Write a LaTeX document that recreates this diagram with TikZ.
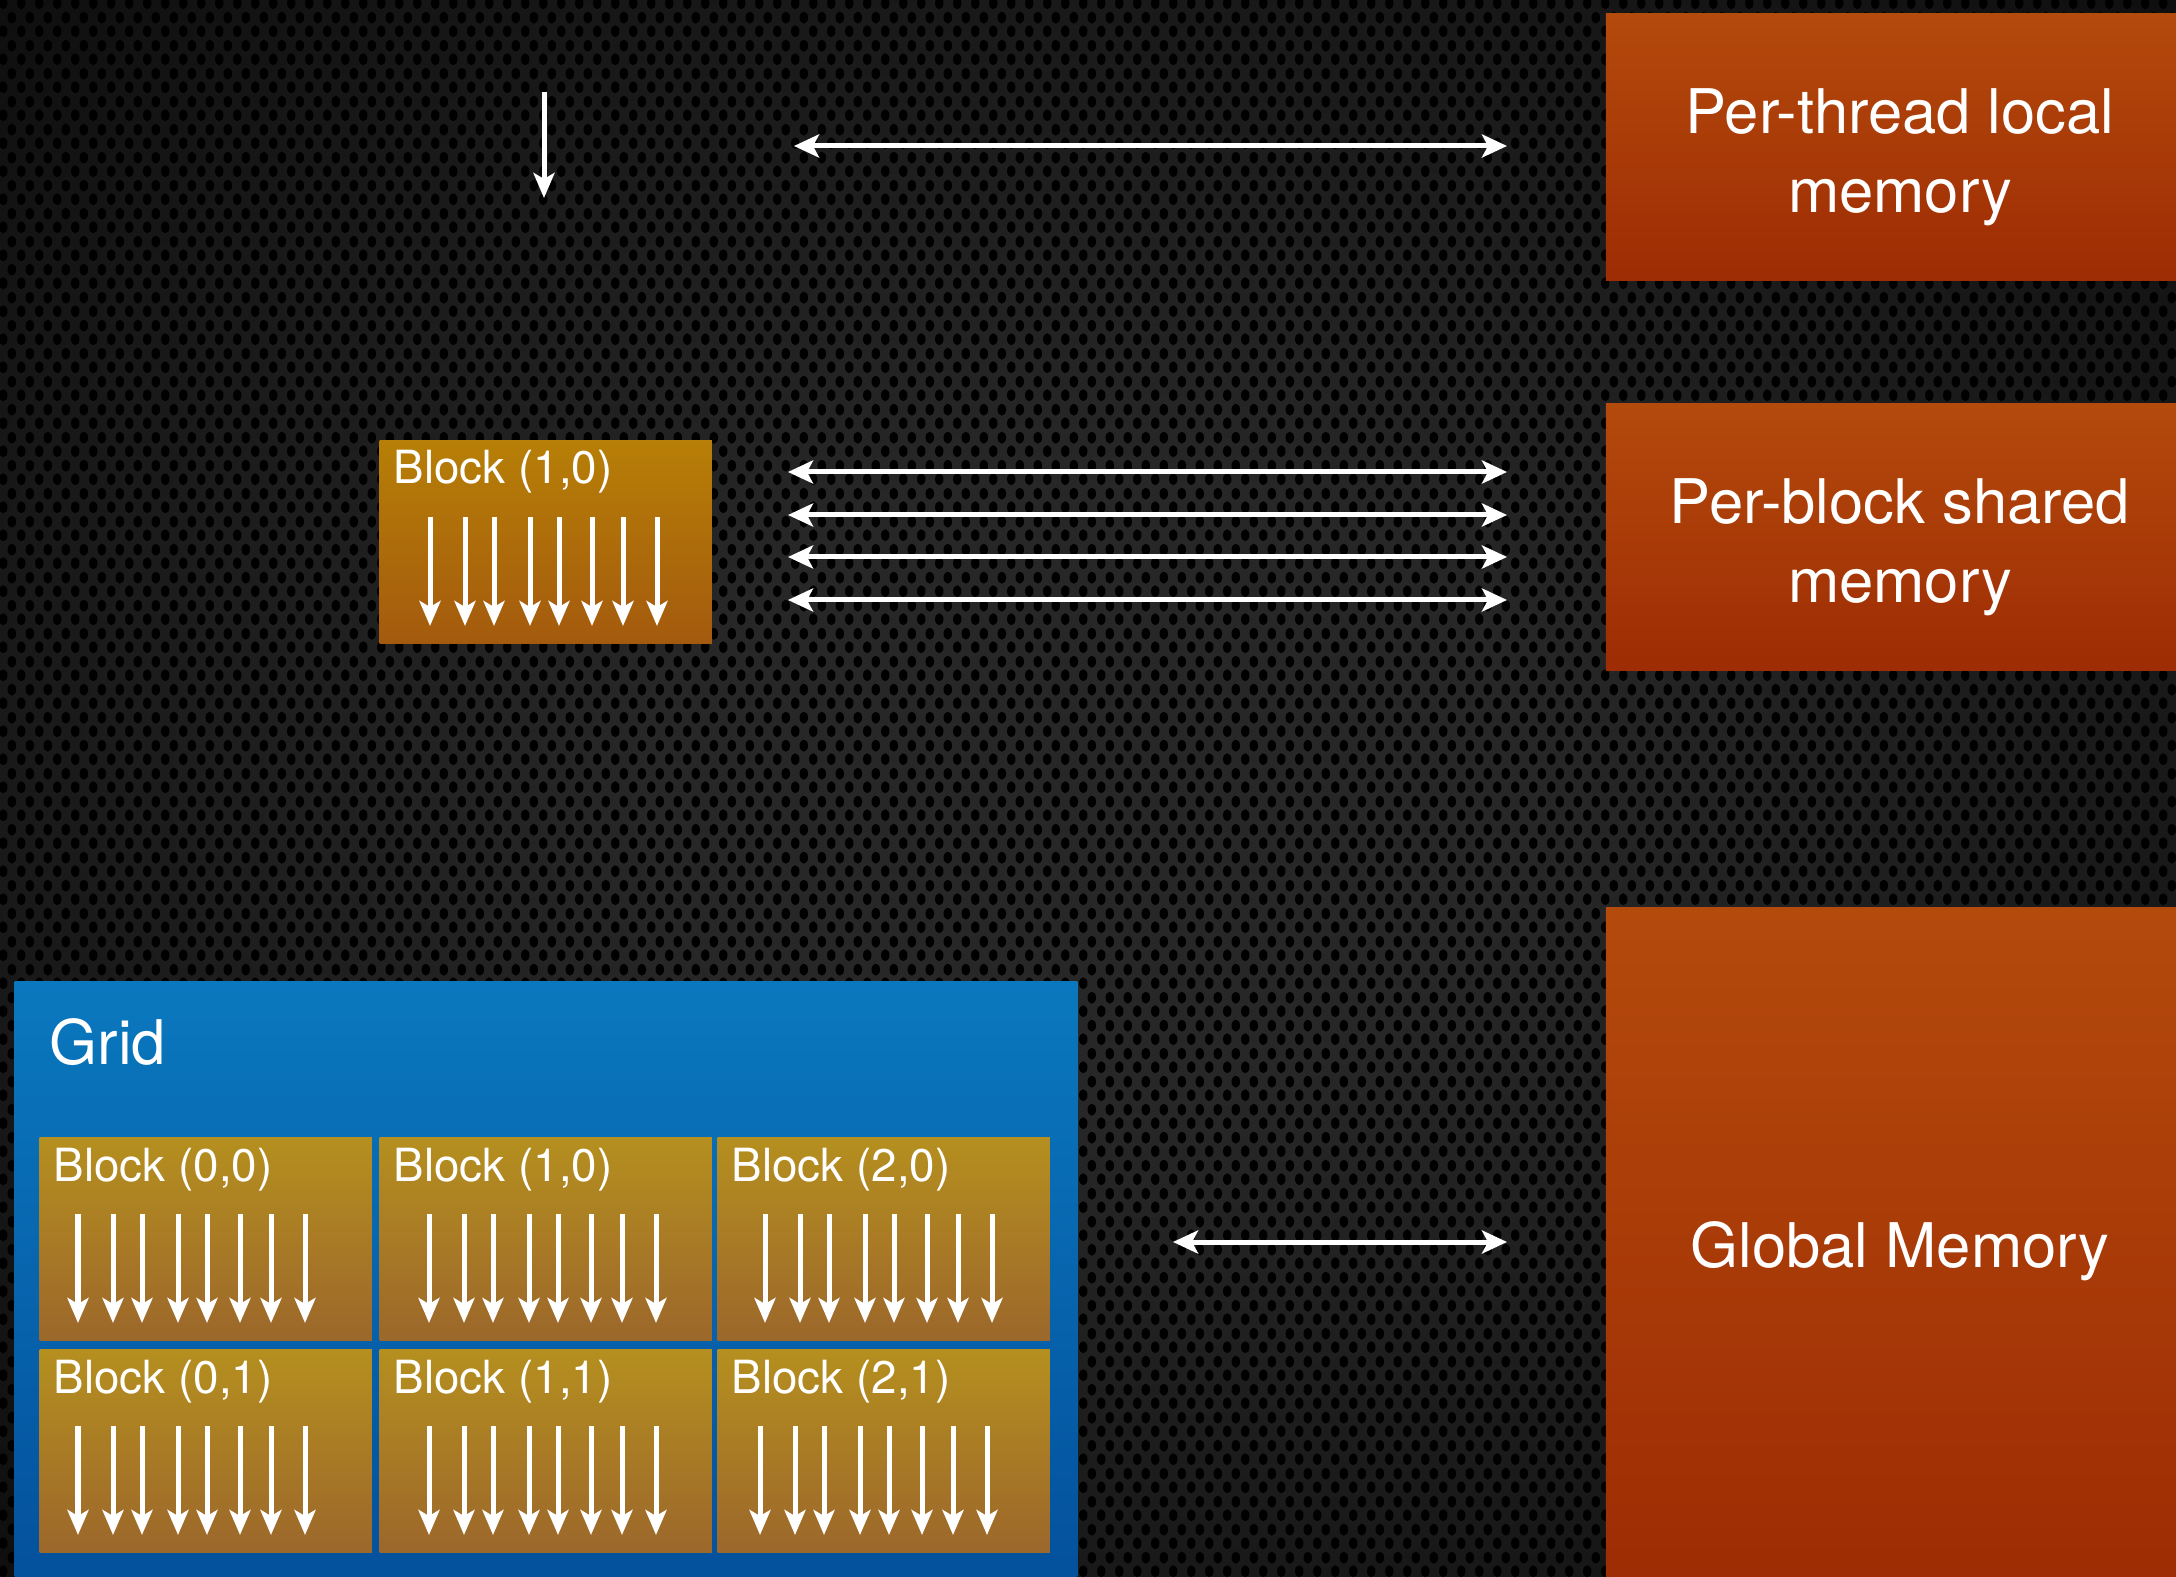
\documentclass[tikz,border=0pt]{standalone}
\usepackage{fontspec}
\setmainfont{TeX Gyre Heros}
\usetikzlibrary{arrows.meta,calc,patterns.meta}

\definecolor{bgin}{HTML}{272727}
\definecolor{bgmid}{HTML}{141414}
\definecolor{bgout}{HTML}{040404}
\definecolor{memtop}{HTML}{B44A0C}
\definecolor{membot}{HTML}{9E2C04}
\definecolor{gridtop}{HTML}{0A78BE}
\definecolor{gridbot}{HTML}{04509C}
\definecolor{blktop}{HTML}{B58F1F}
\definecolor{blkbot}{HTML}{9C672B}
\definecolor{sbtop}{HTML}{B77F07}
\definecolor{sbbot}{HTML}{A45A0E}

\pgfdeclareradialshading{bgshade}{\pgfpoint{0bp}{0bp}}{%
  color(0bp)=(bgin); color(10bp)=(bgin); color(30bp)=(bgmid); color(46bp)=(bgout); color(80bp)=(bgout)}

\pgfdeclarepattern{
  name=hexholes, type=uncolored,
  bottom left={\pgfpoint{0pt}{0pt}},
  top right={\pgfpoint{5.12pt}{7.97pt}},
  tile size={\pgfpoint{5.12pt}{7.97pt}},
  code={
    \pgfpathellipse{\pgfpoint{1.28pt}{1.99pt}}{\pgfpoint{1.27pt}{0pt}}{\pgfpoint{0pt}{1.75pt}}
    \pgfpathellipse{\pgfpoint{3.84pt}{5.98pt}}{\pgfpoint{1.27pt}{0pt}}{\pgfpoint{0pt}{1.75pt}}
    \pgfusepath{fill}
  }
}

\newcommand{\mkblock}[6]{% #1 style, #2 name, #3 x, #4 y, #5 label, #6 first arrow offset
  \node[#1, anchor=north west] (#2) at (#3,#4) {};
  \node[lbl] (#2-lbl) at ($(#2.north west)+(14,44)$) {#5};
  \foreach \d in {0,35,64,100,129,162,193,227}{
    \draw[thread] ($(#2.north west)+(#6+\d,77)$) -- ++(0,109);
  }
}

\begin{document}
\begin{tikzpicture}[x=0.01cm,y=-0.01cm,
  mem/.style={rectangle, inner sep=0pt, top color=memtop, bottom color=membot,
    minimum width=5.88cm},
  memtxt/.style={text=white, align=center, inner sep=0pt,
    font=\fontsize{17.5}{22.5}\selectfont},
  blk/.style={rectangle, inner sep=0pt, top color=blktop, bottom color=blkbot,
    minimum width=3.32cm, minimum height=2.03cm},
  sblk/.style={rectangle, inner sep=0pt, top color=sbtop, bottom color=sbbot,
    minimum width=3.32cm, minimum height=2.03cm},
  gridbox/.style={rectangle, inner sep=0pt, top color=gridtop, bottom color=gridbot,
    minimum width=10.62cm, minimum height=6.09cm},
  lbl/.style={text=white, font=\fontsize{13}{15}\selectfont, anchor=base west, inner sep=0pt},
  gridlbl/.style={text=white, font=\fontsize{17.5}{21}\selectfont, anchor=base west, inner sep=0pt},
  thread/.style={white, line width=0.05cm, -{Stealth[length=0.25cm,width=0.21cm,inset=0.06cm]}},
  harr/.style={white, line width=0.05cm,
    {Stealth[length=0.25cm,width=0.23cm,inset=0.06cm]}-{Stealth[length=0.25cm,width=0.23cm,inset=0.06cm]}}
]
\useasboundingbox (0,0) rectangle (2176,1577);
\clip (0,0) rectangle (2176,1577);
\fill[shading=bgshade] (0,0) rectangle (2176,1577);
\fill[pattern=hexholes, pattern color=black] (0,0) rectangle (2176,1577);

% memory boxes
\node[mem, minimum height=2.66cm] (ptl) at (1900,147) {};
\node[memtxt] (ptl-txt) at ($(ptl.center)+(0,10)$) {Per-thread local\\memory};
\node[mem, minimum height=2.66cm] (pbs) at (1900,537) {};
\node[memtxt] (pbs-txt) at ($(pbs.center)+(0,10)$) {Per-block shared\\memory};
\node[mem, minimum height=6.74cm] (gm) at (1900,1245) {};
\node[memtxt] (gm-txt) at ($(gm.center)+(0,6)$) {Global Memory};

% single thread
\coordinate (t0) at (544,92);
\draw[thread] (t0) -- ++(0,106);

% single block
\mkblock{sblk}{sb}{379}{440}{Block (1,0)}{51}

% grid
\node[gridbox, anchor=north west] (grid) at (14,981) {};
\node[gridlbl] (gridname) at (49,1065) {Grid};
\mkblock{blk}{b00}{39}{1137}{Block (0,0)}{39}
\mkblock{blk}{b10}{379}{1137}{Block (1,0)}{50}
\mkblock{blk}{b20}{717}{1137}{Block (2,0)}{48}
\mkblock{blk}{b01}{39}{1349}{Block (0,1)}{39}
\mkblock{blk}{b11}{379}{1349}{Block (1,1)}{50}
\mkblock{blk}{b21}{717}{1349}{Block (2,1)}{43}

% connectors
\coordinate (l1) at (794,146);  \coordinate (r1) at (1507,146);
\draw[harr] (l1) -- (r1);
\foreach \i/\yy in {1/472,2/515,3/557,4/600}{
  \coordinate (sl\i) at (788,\yy);
  \coordinate (sr\i) at (1507,\yy);
  \draw[harr] (sl\i) -- (sr\i);
}
\coordinate (gl) at (1173,1242); \coordinate (gr) at (1507,1242);
\draw[harr] (gl) -- (gr);
\end{tikzpicture}
\end{document}
